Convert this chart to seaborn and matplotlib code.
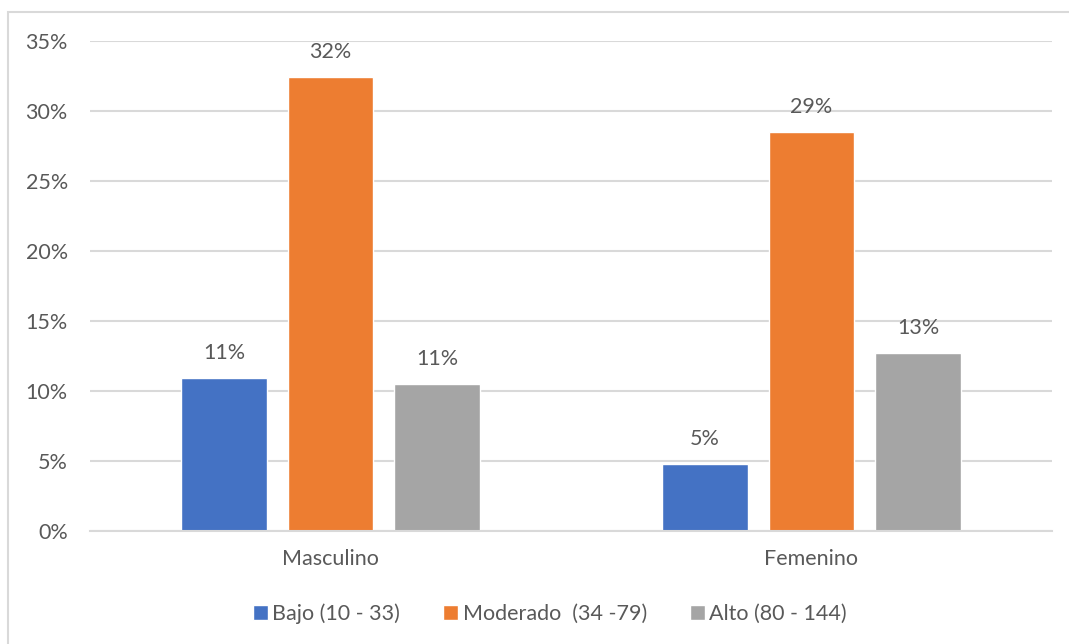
import matplotlib
matplotlib.use("Agg")
import matplotlib.pyplot as plt
from matplotlib.patches import Rectangle
from matplotlib.ticker import PercentFormatter
import seaborn as sns
import pandas as pd

# Data (percentages)
groups = ["Masculino", "Femenino"]
levels = ["Bajo (10 - 33)", "Moderado  (34 -79)", "Alto (80 - 144)"]
bajo = [10.9, 4.8]
moderado = [32.4, 28.5]
alto = [10.5, 12.7]
colors = ["#4472C4", "#ED7D31", "#A5A5A5"]

df = pd.DataFrame({
    "grupo": groups * 3,
    "nivel": [levels[0]] * 2 + [levels[1]] * 2 + [levels[2]] * 2,
    "valor": bajo + moderado + alto,
})

sns.set_theme(style="white")
plt.rcParams["font.family"] = ["Lato", "DejaVu Sans"]
text_color = "#595959"
grid_color = "#D9D9D9"
fs = 15.5

fig = plt.figure(figsize=(10.69, 6.44), dpi=100)
ax = fig.add_axes([90 / 1069, 1 - 531 / 644, (1052 - 90) / 1069, (531 - 41) / 644])

sns.barplot(data=df, x="grupo", y="valor", hue="nivel", hue_order=levels,
            order=groups, palette=colors, width=0.665, gap=0.2,
            saturation=1, ax=ax, legend=True)

ax.set_ylim(0, 35)
ax.set_xlim(-0.5, 1.5)
ax.set_yticks(range(0, 36, 5))
ax.yaxis.set_major_formatter(PercentFormatter(decimals=0))
ax.grid(axis="y", color=grid_color, linewidth=1.5)
ax.set_axisbelow(True)
for side in ["top", "right", "left"]:
    ax.spines[side].set_visible(False)
ax.spines["bottom"].set_color(grid_color)
ax.spines["bottom"].set_linewidth(1.5)
ax.set_xlabel("")
ax.set_ylabel("")
ax.tick_params(axis="both", length=0, labelsize=fs, colors=text_color)
ax.tick_params(axis="y", pad=16)
ax.tick_params(axis="x", pad=13)

# Value labels above each bar, rounded half-up
for container in ax.containers:
    labels = [f"{int(b.get_height() + 0.5)}%" for b in container]
    ax.bar_label(container, labels=labels, padding=11, fontsize=fs, color=text_color)

handles, labs = ax.get_legend_handles_labels()
ax.legend_.remove()
fig.legend(handles, labs, loc="center", bbox_to_anchor=(550 / 1069, 1 - 614 / 644),
           ncol=3, frameon=False, fontsize=fs, handlelength=0.7, handleheight=0.7,
           handletextpad=0.2, columnspacing=2.0, labelcolor=text_color)

# Chart border
fig.patches.append(Rectangle((8 / 1069, -0.1), 1.2, 1 - 12 / 644 + 0.1,
                             transform=fig.transFigure, fill=False,
                             edgecolor=grid_color, linewidth=1.5))

fig.savefig("out.png", dpi=100)
